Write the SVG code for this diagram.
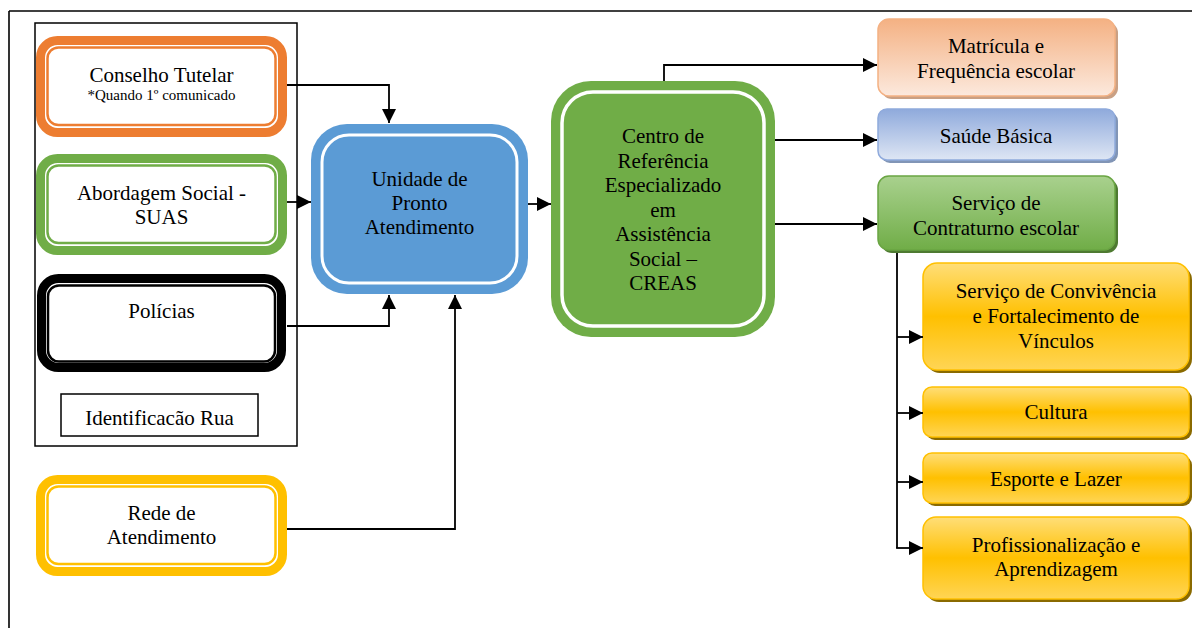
<svg xmlns="http://www.w3.org/2000/svg" width="1192" height="628" viewBox="0 0 1192 628">
<style>
.t{font-family:"Liberation Serif","Times New Roman",serif;font-size:21px;text-anchor:middle;fill:#000}
.s{font-size:15px}
.c{fill:none;stroke:#000;stroke-width:1.8}
.ca{fill:none;stroke:#000;stroke-width:1.8;marker-end:url(#ah)}
.ob{fill:#fff;stroke-width:9}
.ib{fill:none;stroke-width:2.5}
</style>
<defs>
<marker id="ah" viewBox="0 0 10 10" refX="10" refY="5" markerUnits="userSpaceOnUse" markerWidth="14" markerHeight="14" orient="auto">
<path d="M0,0 L10,5 L0,10 z" fill="#000"/>
</marker>
<linearGradient id="gO" x1="0" y1="0" x2="0" y2="1"><stop offset="0" stop-color="#F4B183"/><stop offset="1" stop-color="#FCE9DD"/></linearGradient>
<linearGradient id="gB" x1="0" y1="0" x2="0" y2="1"><stop offset="0" stop-color="#8FAADC"/><stop offset="1" stop-color="#DEE6F4"/></linearGradient>
<linearGradient id="gG" x1="0" y1="0" x2="0" y2="1"><stop offset="0" stop-color="#A9D18E"/><stop offset="1" stop-color="#70AD47"/></linearGradient>
<linearGradient id="gY" x1="0" y1="0" x2="0" y2="1"><stop offset="0" stop-color="#FFDE78"/><stop offset="0.5" stop-color="#FFC000"/><stop offset="1" stop-color="#FFD555"/></linearGradient>
</defs>

<g id="frame">
<line x1="9" y1="11" x2="1192" y2="11" stroke="#000" stroke-width="1.6"/>
<line x1="9" y1="11" x2="9" y2="628" stroke="#000" stroke-width="1.6"/>
<rect x="35" y="23" width="262" height="423" fill="none" stroke="#000" stroke-width="1.5"/>
</g>

<g id="conselho">
<rect class="ob" x="40.5" y="40.5" width="242" height="92" rx="17" stroke="#ED7D31"/>
<rect class="ib" x="47.5" y="47.5" width="228" height="77.5" rx="11" stroke="#ED7D31"/>
<text class="t" x="161.5" y="82">Conselho Tutelar</text>
<text class="t s" x="161.5" y="100">*Quando 1º comunicado</text>
</g>

<g id="abordagem">
<rect class="ob" x="40.5" y="158.5" width="242" height="92" rx="17" stroke="#70AD47"/>
<rect class="ib" x="47.5" y="165.5" width="228" height="77.5" rx="11" stroke="#70AD47"/>
<text class="t" x="161.5" y="200">Abordagem Social -</text>
<text class="t" x="161.5" y="224">SUAS</text>
</g>

<g id="policias">
<rect class="ob" x="41.5" y="278.5" width="240" height="89" rx="17" stroke="#000" stroke-width="11"/>
<rect class="ib" x="48" y="285.5" width="227" height="76" rx="11" stroke="#000"/>
<text class="t" x="161.5" y="318">Polícias</text>
</g>

<g id="identificacao">
<rect x="61" y="394" width="197" height="42" fill="#fff" stroke="#000" stroke-width="1.5"/>
<text class="t" x="159.5" y="425">Identificacão Rua</text>
</g>

<g id="rede">
<rect class="ob" x="40.5" y="479.5" width="242" height="92" rx="17" stroke="#FFC000"/>
<rect class="ib" x="47.5" y="486.5" width="228" height="77.5" rx="11" stroke="#FFC000"/>
<text class="t" x="161.5" y="520">Rede de</text>
<text class="t" x="161.5" y="544">Atendimento</text>
</g>

<g id="upa">
<rect x="311" y="124" width="217" height="170" rx="36" fill="#5B9BD5"/>
<rect x="322" y="135" width="195" height="148" rx="27" fill="none" stroke="#fff" stroke-width="3"/>
<text class="t" x="419.5" y="186">Unidade de</text>
<text class="t" x="419.5" y="210">Pronto</text>
<text class="t" x="419.5" y="234">Atendimento</text>
</g>

<g id="creas">
<rect x="551" y="81" width="224" height="256" rx="40" fill="#70AD47"/>
<rect x="562" y="92" width="202" height="234" rx="31" fill="none" stroke="#fff" stroke-width="3.5"/>
<text class="t" x="663" y="143">Centro de</text>
<text class="t" x="663" y="167.5">Referência</text>
<text class="t" x="663" y="192">Especializado</text>
<text class="t" x="663" y="216.5">em</text>
<text class="t" x="663" y="241">Assistência</text>
<text class="t" x="663" y="265.5">Social –</text>
<text class="t" x="663" y="290">CREAS</text>
</g>

<g id="matricula">
<rect x="881" y="22" width="237" height="77" rx="11" fill="#C9A084"/>
<rect x="878" y="19" width="237" height="77" rx="11" fill="url(#gO)" stroke="#F4B183" stroke-width="1.5"/>
<text class="t" x="996" y="53">Matrícula e</text>
<text class="t" x="996" y="78">Frequência escolar</text>
</g>

<g id="saude">
<rect x="881" y="112" width="237" height="51" rx="9" fill="#8195B6"/>
<rect x="878" y="109" width="237" height="51" rx="9" fill="url(#gB)" stroke="#8FAADC" stroke-width="1.5"/>
<text class="t" x="996" y="143">Saúde Básica</text>
</g>

<g id="contraturno">
<rect x="881" y="179" width="237" height="74" rx="11" fill="#4E7A31"/>
<rect x="878" y="176" width="237" height="74" rx="11" fill="url(#gG)" stroke="#6AA543" stroke-width="1.5"/>
<text class="t" x="996" y="210">Serviço de</text>
<text class="t" x="996" y="235">Contraturno escolar</text>
</g>

<g id="convivencia">
<rect x="926" y="266" width="266" height="107" rx="14" fill="#8A6A00"/>
<rect x="923" y="263" width="266" height="107" rx="14" fill="url(#gY)" stroke="#FFC000" stroke-width="1.5"/>
<text class="t" x="1056" y="298">Serviço de Convivência</text>
<text class="t" x="1056" y="323">e Fortalecimento de</text>
<text class="t" x="1056" y="348">Vínculos</text>
</g>

<g id="cultura">
<rect x="926" y="390" width="266" height="50" rx="9" fill="#8A6A00"/>
<rect x="923" y="387" width="266" height="50" rx="9" fill="url(#gY)" stroke="#FFC000" stroke-width="1.5"/>
<text class="t" x="1056" y="419">Cultura</text>
</g>

<g id="esporte">
<rect x="926" y="456" width="266" height="50" rx="9" fill="#8A6A00"/>
<rect x="923" y="453" width="266" height="50" rx="9" fill="url(#gY)" stroke="#FFC000" stroke-width="1.5"/>
<text class="t" x="1056" y="486">Esporte e Lazer</text>
</g>

<g id="profissionalizacao">
<rect x="926" y="520" width="266" height="82" rx="13" fill="#8A6A00"/>
<rect x="923" y="517" width="266" height="82" rx="13" fill="url(#gY)" stroke="#FFC000" stroke-width="1.5"/>
<text class="t" x="1056" y="552">Profissionalização e</text>
<text class="t" x="1056" y="576">Aprendizagem</text>
</g>

<g id="connectors">
<path class="ca" d="M287,85 H389 V123"/>
<path class="ca" d="M287,202 H311"/>
<path class="ca" d="M287,326 H389 V295"/>
<path class="ca" d="M287,529 H455 V295"/>
<path class="ca" d="M528,204 H551"/>
<path class="ca" d="M664,81 V65 H877"/>
<path class="ca" d="M775,140 H877"/>
<path class="ca" d="M775,224 H877"/>
<path class="c" d="M897,253 V548"/>
<path class="ca" d="M897,337 H923"/>
<path class="ca" d="M897,413 H923"/>
<path class="ca" d="M897,482 H923"/>
<path class="ca" d="M896.1,548 H923"/>
</g>
</svg>
